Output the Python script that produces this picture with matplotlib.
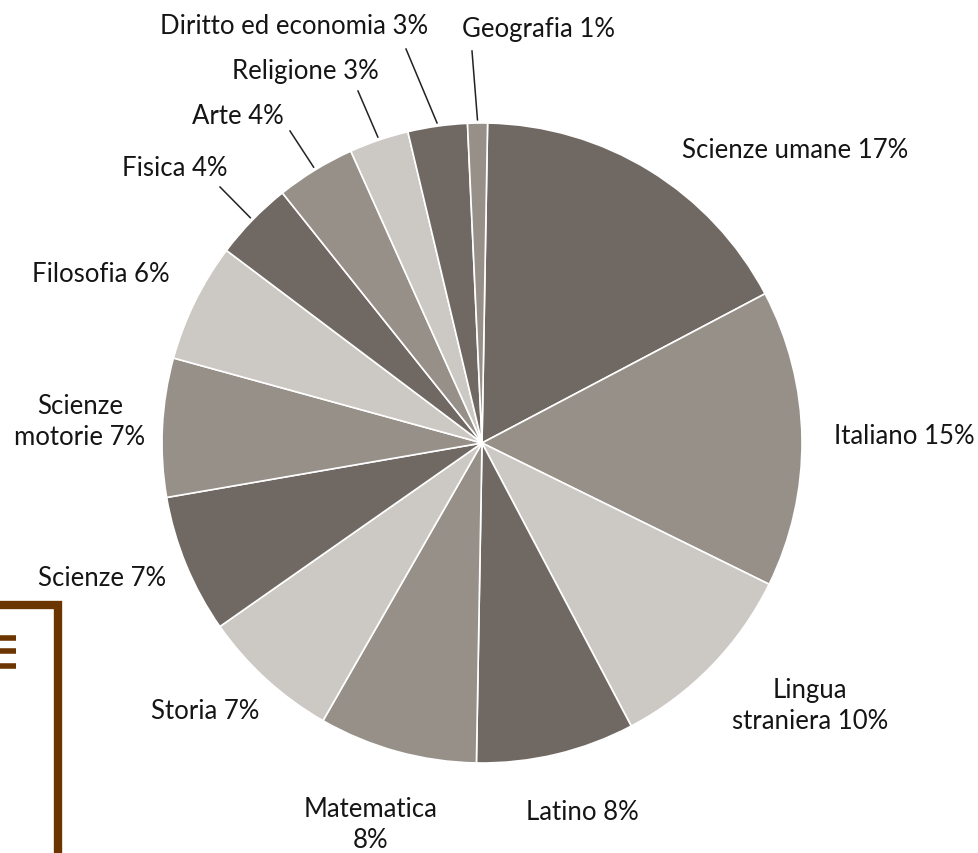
import numpy as np
import matplotlib
matplotlib.use('Agg')
import matplotlib.pyplot as plt

subjects = ['Scienze umane', 'Italiano', 'Lingua\nstraniera', 'Latino', 'Matematica\n',
            'Storia', 'Scienze', 'Scienze\nmotorie', 'Filosofia', 'Fisica', 'Arte',
            'Religione', 'Diritto ed economia', 'Geografia']
shares = [17, 15, 10, 8, 8, 7, 7, 7, 6, 4, 4, 3, 3, 1]

dark = '#706863'
mid = '#979089'
light = '#ccc8c4'
colors = [dark, mid, light] * 4 + [dark, mid]

# image pixel layout (y measured from the top)
W, H = 979, 854
cx, cy, R = 482, 444, 320
label_pos = [(795, 150), (904, 437), (810, 706), (582, 813), (371, 825),
             (205, 712), (102, 579), (80, 422), (101, 275), (175, 168),
             (238, 117), (305, 71), (294, 26), (539, 29)]
# outer ends of leader lines for the small slices
leaders = {9: (220, 188), 10: (290, 132), 11: (358, 92), 12: (406, 50), 13: (472, 52)}

fig = plt.figure(figsize=(W / 100, H / 100), dpi=100)
ax = fig.add_axes([0, 0, 1, 1])

start = 89
wedges, _ = ax.pie(shares, colors=colors, startangle=start, counterclock=False,
                   center=(cx, H - cy), radius=R,
                   wedgeprops=dict(edgecolor='white', linewidth=1.2))
ax.set_xlim(0, W)
ax.set_ylim(0, H)
ax.set_aspect('equal')
ax.axis('off')

for i, (name, val) in enumerate(zip(subjects, shares)):
    x, y = label_pos[i]
    if name.endswith('\n'):
        txt = name + f'{val}%'
    else:
        txt = f'{name} {val}%'
    ax.text(x, H - y, txt, ha='center', va='center', fontsize=18.5,
            family='Lato', color='#151515', linespacing=1.3)
    if i in leaders:
        frac = (sum(shares[:i]) + val / 2) / sum(shares)
        ang = np.deg2rad(start - frac * 360)
        x1 = cx + 1.01 * R * np.cos(ang)
        y1 = cy - 1.01 * R * np.sin(ang)
        x0, y0 = leaders[i]
        ax.plot([x0, x1], [H - y0, H - y1], color='#222222', lw=1.1)

# brown frame on the left edge
brown = '#6b3500'
ax.plot([58, 58], [H - 602, 0], color=brown, lw=6, solid_capstyle='butt')
ax.plot([0, 62], [H - 606, H - 606], color=brown, lw=6, solid_capstyle='butt')
for yy in [639, 652, 667]:
    ax.plot([0, 16], [H - yy, H - yy], color=brown, lw=4, solid_capstyle='butt')

fig.savefig('out.png', dpi=100)
